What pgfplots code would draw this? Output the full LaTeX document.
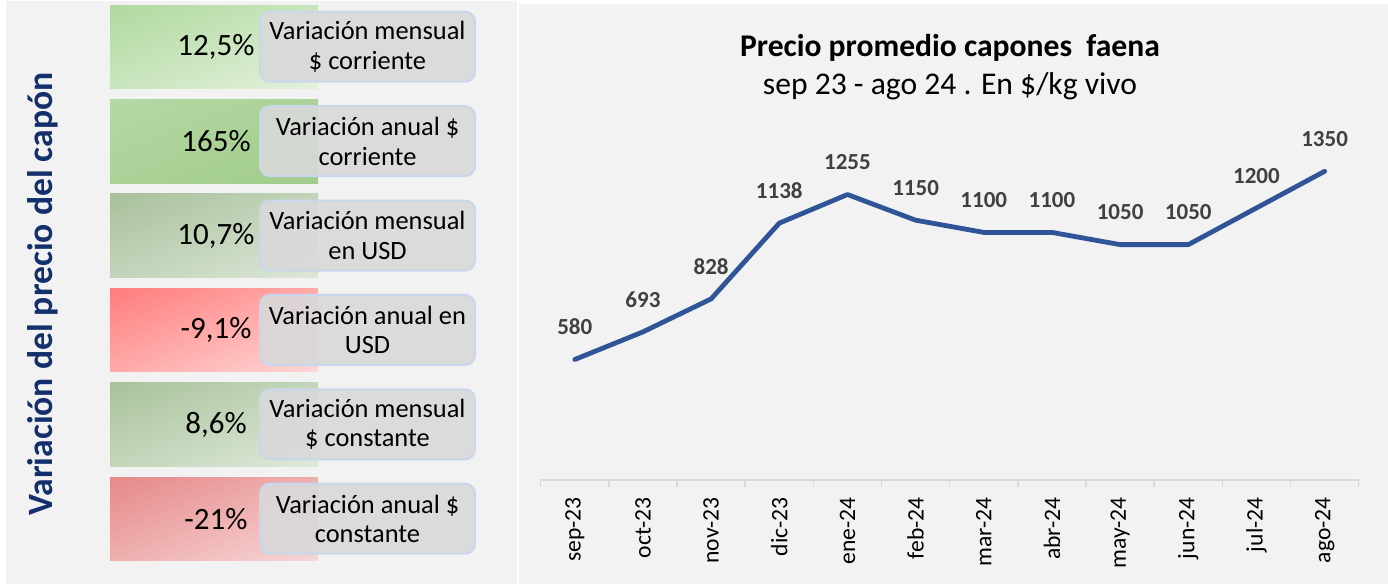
\documentclass[border=0pt]{standalone}
\usepackage{pgfplots}
\pgfplotsset{compat=1.18}
\usetikzlibrary{shadings}
\usepackage{fontspec}
\setmainfont{Carlito}
\definecolor{bg}{HTML}{F2F2F2}
\definecolor{axgray}{HTML}{D9D9D9}
\definecolor{lblgray}{HTML}{404040}
\definecolor{lineblue}{HTML}{2F5597}
\definecolor{navy}{HTML}{13306C}
\definecolor{boxgray}{HTML}{D9D9D9}
\definecolor{boxedge}{HTML}{C9D7EC}
\definecolor{gA1}{HTML}{B0D99F}\definecolor{gA2}{HTML}{E3F1DC}
\definecolor{gB1}{HTML}{B5D8A4}\definecolor{gB2}{HTML}{A1CC8B}
\definecolor{gC1}{HTML}{A8C09B}\definecolor{gC2}{HTML}{DDE7D8}
\definecolor{rD1}{HTML}{FF7C7C}\definecolor{rD2}{HTML}{FFD6D6}
\definecolor{gE1}{HTML}{A8C29B}\definecolor{gE2}{HTML}{DFE9D9}
\definecolor{rF1}{HTML}{E68888}\definecolor{rF2}{HTML}{F7D6D6}
\begin{document}
\begin{tikzpicture}[x=0.5pt,y=-0.5pt]
\fill[white] (0,0) rectangle (1388,584);
\fill[bg] (6,1) rectangle (517,584);
\fill[bg] (519,4) rectangle (1388,584);
% vertical title
\node[rotate=90,anchor=base,text=navy,font=\bfseries\fontsize{17.8}{20}\selectfont] at (53,294) {Variación del precio del capón};
% boxes
\def\drawbox#1#2#3#4#5{%
  \pgfmathsetmacro{\bxT}{5+#1*94.4}%
  \pgfmathsetmacro{\bxB}{\bxT+83.7}%
  \shade[upper left=#2,lower right=#3,upper right=#2!50!#3,lower left=#2!50!#3] (110,\bxT) rectangle (318,\bxB);
  \pgfmathsetmacro{\bxRT}{\bxT+6.7}\pgfmathsetmacro{\bxRB}{\bxT+76.7}\pgfmathsetmacro{\bxC}{\bxT+41.8}%
  \draw[draw=boxedge,line width=1pt,fill=boxgray,fill opacity=0.9,rounded corners=5pt] (260,\bxRT) rectangle (475,\bxRB);
  \node[anchor=center,font=\fontsize{15.5}{18}\selectfont] at (216,\bxC) {#4};
  \node[anchor=center,align=center,font=\fontsize{13.2}{14.75}\selectfont] at (367.5,\bxC) {#5};
}
\drawbox{0}{gA1}{gA2}{12,5\%}{Variación mensual\\\$ corriente}
\drawbox{1}{gB1}{gB2}{165\%}{Variación anual \$\\corriente}
\drawbox{2}{gC1}{gC2}{10,7\%}{Variación mensual\\en USD}
\drawbox{3}{rD1}{rD2}{-9,1\%}{Variación anual en\\USD}
\drawbox{4}{gE1}{gE2}{8,6\%}{Variación mensual\\\$ constante}
\drawbox{5}{rF1}{rF2}{-21\%}{Variación anual \$\\constante}
% title
\node[anchor=base,font=\bfseries\fontsize{15.8}{19}\selectfont] at (950,56) {Precio promedio capones\ \ faena};
\node[anchor=base,font=\fontsize{15.8}{19}\selectfont] at (950,94) {sep 23 - ago 24 . En \$/kg vivo};
\begin{axis}[
  at={(270.35pt,-240pt)}, anchor=south west,
  width=409pt, height=184.9pt, scale only axis,
  xmin=-0.5, xmax=11.5, ymin=87, ymax=1600,
  axis x line=bottom, axis y line=none,
  axis line style={draw=axgray, line width=0.75pt, -},
  xtick={0,...,11},
  xticklabels={sep-23,oct-23,nov-23,dic-23,ene-24,feb-24,mar-24,abr-24,may-24,jun-24,jul-24,ago-24},
  major tick length=0pt,
  minor xtick={-0.5,0.5,...,11.5},
  minor tick length=3.5pt,
  tick align=outside,
  minor tick style={draw=axgray, line width=0.75pt},
  xticklabel style={rotate=90, anchor=east, inner sep=0pt, font=\fontsize{11.8}{12}\selectfont},
  xticklabel shift=8.5pt,
  ytick=\empty,
  clip=false,
  point meta=explicit symbolic,
  nodes near coords,
  every node near coord/.append style={font=\bfseries\fontsize{11.5}{12}\selectfont, text=lblgray, anchor=base, inner sep=0pt, yshift=12.35pt},
]
\addplot[color=lineblue, line width=2.4pt, line cap=round, line join=round, mark=none] coordinates {
(0,580) [580]
(1,693) [693]
(2,828) [828]
(3,1138) [1138]
(4,1255) [1255]
(5,1150) [1150]
(6,1100) [1100]
(7,1100) [1100]
(8,1050) [1050]
(9,1050) [1050]
(10,1200) [1200]
(11,1350) [1350]
};
\end{axis}
\end{tikzpicture}
\end{document}
